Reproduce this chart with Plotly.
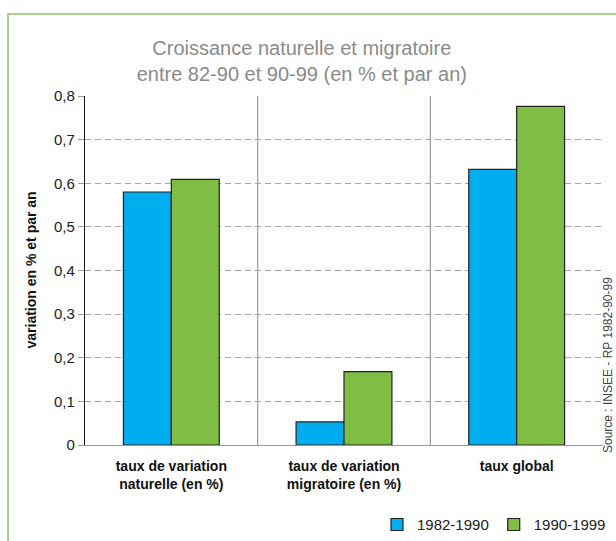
import plotly.graph_objects as go

categories = ["<b>taux de variation<br>naturelle (en %)</b>", "<b>taux de variation<br>migratoire (en %)</b>", "<b>taux global</b>"]
series_names = ["1982-1990", "1990-1999"]
values_1982_1990 = [0.58, 0.053, 0.632]
values_1990_1999 = [0.609, 0.168, 0.776]
y_ticks = [0, 0.1, 0.2, 0.3, 0.4, 0.5, 0.6, 0.7, 0.8]
y_tick_labels = ["0", "0,1", "0,2", "0,3", "0,4", "0,5", "0,6", "0,7", "0,8"]
colors = ["#00aeef", "#80bd44"]

fig = go.Figure()
for name, vals, col in zip(series_names, [values_1982_1990, values_1990_1999], colors):
    fig.add_trace(go.Bar(
        x=categories, y=vals, name=name,
        marker=dict(color=col, line=dict(color="#222222", width=1.2)),
    ))

shapes = []
# green frame
shapes.append(dict(type="rect", xref="paper", yref="paper",
                   x0=-0.1486, x1=1.2, y0=-0.5, y1=1.235,
                   line=dict(color="#a9d18e", width=2), fillcolor="rgba(0,0,0,0)", layer="below"))
# vertical category separators
for xb in [0.5, 1.5]:
    shapes.append(dict(type="line", xref="x", yref="y", x0=xb, x1=xb, y0=-0.012, y1=0.8,
                       line=dict(color="#999999", width=1.2), layer="below"))
for xb in [-0.5, 2.5]:
    shapes.append(dict(type="line", xref="x", yref="y", x0=xb, x1=xb, y0=-0.012, y1=0,
                       line=dict(color="#999999", width=1.2)))

fig.update_layout(
    width=616, height=541,
    margin=dict(l=85, r=13, t=96, b=96, autoexpand=False),
    paper_bgcolor="white", plot_bgcolor="white",
    barmode="group", bargap=0.445, bargroupgap=0,
    separators=", ",
    font=dict(family="Liberation Sans, Arial, sans-serif", color="#222222"),
    title=dict(text="Croissance naturelle et migratoire<br>entre 82-90 et 90-99 (en % et par an)",
               x=0.49, xanchor="center", y=0.899, yanchor="middle",
               font=dict(family="Liberation Sans, Arial, sans-serif", size=20, color="#8a8a8a")),
    xaxis=dict(range=[-0.5, 2.5], showgrid=False, showline=True, linecolor="#999999", linewidth=1.2,
               ticks="", tickfont=dict(size=14, family="Liberation Sans, Arial, sans-serif", color="#111111"),
               automargin=False, ticklabelstandoff=8),
    yaxis=dict(range=[0, 0.8], tickvals=y_ticks, ticktext=y_tick_labels,
               showgrid=True, gridcolor="#a6a6a6", griddash="6px,4px", gridwidth=1,
               showline=True, linecolor="#111111", linewidth=1.2,
               ticks="outside", ticklen=6, tickcolor="#999999",
               tickfont=dict(size=15, color="#222222"),
               automargin=False, zeroline=False),
    legend=dict(orientation="h", xref="container", yref="container",
                x=0.612, xanchor="left", y=0.03, yanchor="middle",
                font=dict(size=15, color="#222222"), traceorder="normal",
                itemwidth=30, bgcolor="rgba(0,0,0,0)"),
    shapes=shapes,
    annotations=[
        dict(text="<b>variation en % et par an</b>", xref="paper", yref="paper",
             x=(30 - 85) / 518, xanchor="center", y=0.5, yanchor="middle",
             textangle=-90, showarrow=False, font=dict(size=14, color="#111111")),
        dict(text="Source : INSEE - RP 1982-90-99", xref="paper", yref="paper",
             x=1.0, xanchor="left", xshift=-4, y=0.0, yanchor="bottom", yshift=-10,
             textangle=-90, showarrow=False,
             font=dict(size=12, color="#444444"))],
)
fig.write_html("out.html", post_script="document.body.style.margin='0';",
               config={"displayModeBar": False})
